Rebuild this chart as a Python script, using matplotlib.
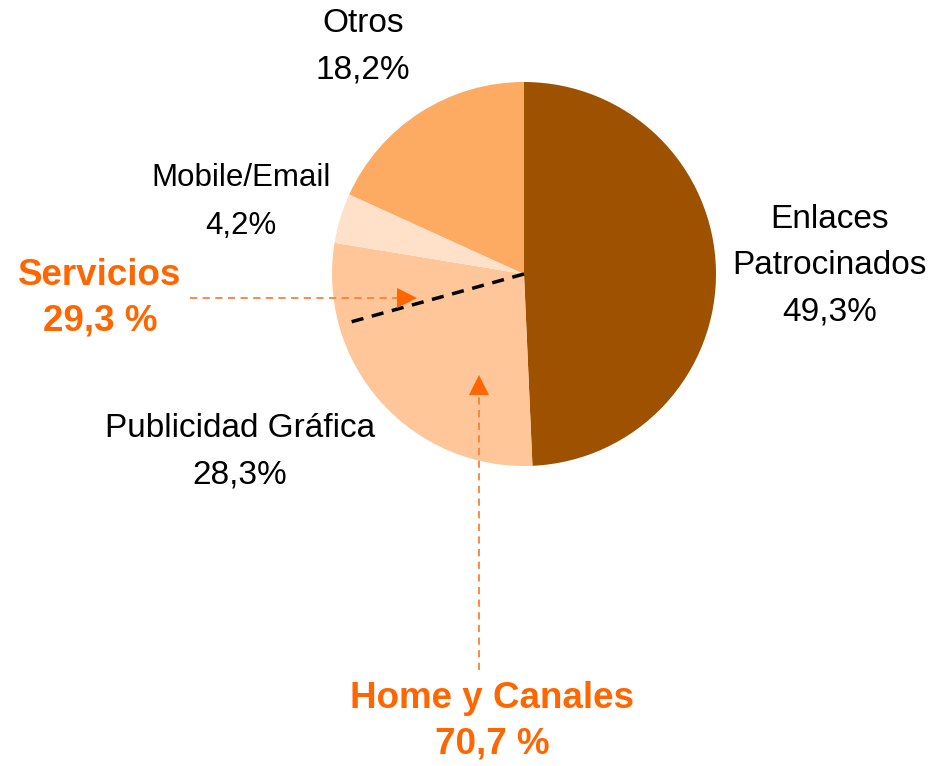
import numpy as np
import matplotlib.pyplot as plt

# data
labels = ['Enlaces\nPatrocinados', 'Publicidad Gráfica', 'Mobile/Email', 'Otros']
values = [49.3, 28.3, 4.2, 18.2]
colors = ['#9E5200', '#FFC699', '#FFE0C8', '#FDAA63']
groups = ['Servicios', 'Home y Canales']
group_values = [29.3, 70.7]

orange = '#FF6600'
W, H = 948, 766

def Y(y):
    # image rows -> data y (y up)
    return H - y

fig = plt.figure(figsize=(W / 100, H / 100), dpi=100)
ax = fig.add_axes([0, 0, 1, 1])

cx, cy, r = 524, Y(274), 192
ax.pie(values, colors=colors, startangle=90, counterclock=False,
       center=(cx, cy), radius=r, wedgeprops=dict(linewidth=0))
ax.set_xlim(0, W)
ax.set_ylim(0, H)
ax.set_aspect('equal')
ax.axis('off')

# divider between Home y Canales and Servicios
ang = np.deg2rad(90 - 360 * group_values[1] / 100)
ax.plot([cx, cx + 0.95 * r * np.cos(ang)], [cy, cy + 0.95 * r * np.sin(ang)],
        color='black', lw=2.5, ls=(0, (3.5, 2.5)), solid_capstyle='butt')

# slice labels
fs = 24
ls = 1.64
pct = [f'{v:.1f}%'.replace('.', ',') for v in values]
ax.text(830, Y(266), f'{labels[0]}\n{pct[0]}', ha='center', va='center',
        fontsize=fs, family='Liberation Sans', linespacing=ls)
ax.text(240, Y(452), f'{labels[1]}\n{pct[1]}', ha='center', va='center',
        fontsize=fs, family='Liberation Sans', linespacing=ls)
ax.text(241, Y(202), f'{labels[2]}\n{pct[2]}', ha='center', va='center',
        fontsize=22.5, family='Liberation Sans', linespacing=1.74)
ax.text(363, Y(47), f'{labels[3]}\n{pct[3]}', ha='center', va='center',
        fontsize=fs, family='Liberation Sans', linespacing=ls)

# group labels
gfs = 26.5
gtxt = [f'{g}\n{v:.1f} %'.replace('.', ',') for g, v in zip(groups, group_values)]
ax.text(100, Y(298), gtxt[0], ha='center', va='center', fontsize=gfs,
        fontweight='bold', color=orange, family='Liberation Sans', linespacing=1.375)
ax.text(492, Y(721), gtxt[1], ha='center', va='center', fontsize=gfs,
        fontweight='bold', color=orange, family='Liberation Sans', linespacing=1.375)

# arrows
ax.plot([190, 400], [Y(298), Y(298)], color='#FF8030', lw=1.3, ls=(0, (4, 3)))
ax.plot([407], [Y(298)], marker='>', color=orange, markersize=15, mew=0)
ax.plot([479, 479], [Y(670), Y(392)], color='#FF8030', lw=1.3, ls=(0, (4, 3)))
ax.plot([479], [Y(385)], marker='^', color=orange, markersize=15, mew=0)

fig.savefig('out.png', dpi=100)
